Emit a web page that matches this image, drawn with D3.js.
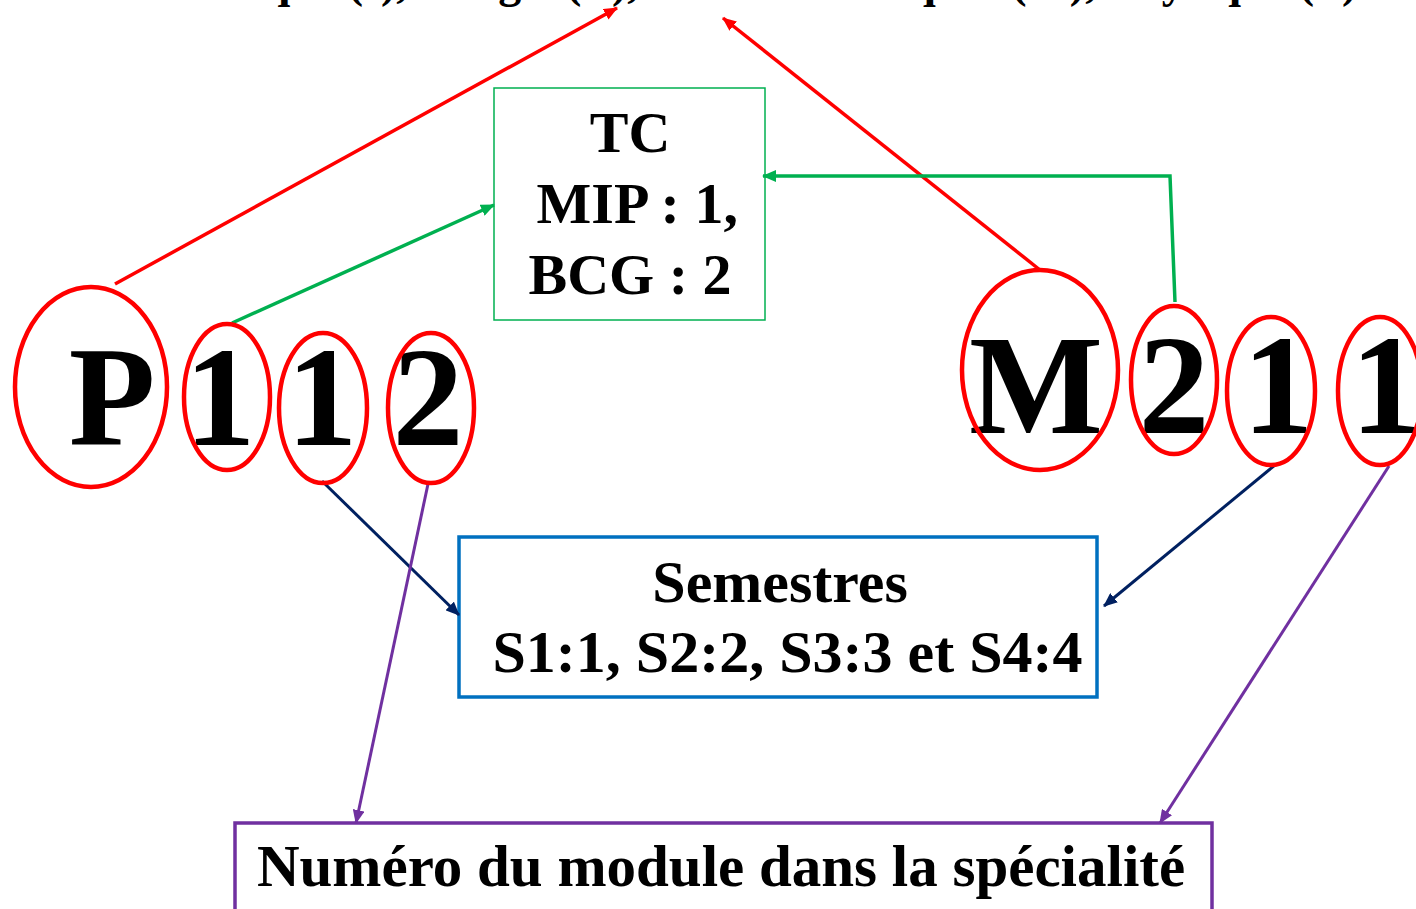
<!DOCTYPE html>
<html>
<head>
<meta charset="utf-8">
<script src="https://cdn.jsdelivr.net/npm/d3@7"></script>
<style>
  html, body { margin: 0; padding: 0; background: #fff; }
  svg { display: block; }
  text { font-family: "Liberation Serif", "Times New Roman", serif; font-weight: bold; fill: #000; }
</style>
</head>
<body>
<svg id="mychart"></svg>
<script>
const width = 1416
const height = 909

// the two course codes
const leftCode = ["P", "1", "1", "2"]
const rightCode = ["M", "2", "1", "1"]

// box labels
const tcLines = ["TC", " MIP : 1,", "BCG : 2"]
const semLines = ["Semestres", " S1:1, S2:2, S3:3 et S4:4"]
const numLines = ["Numéro du module dans la spécialité"]

// top line (only the bottom of it shows)
const topWords = ["Informatique (I),", "Biologie (B),", "Mathématiques (M), Physique (P)"]

// layout
const leftX = [112, 220, 322, 428]
const rightX = [1036, 1174, 1278, 1386]
const leftRings = [[91, 387, 76, 100], [227, 397, 43, 73], [323, 408, 44, 75], [431, 408, 43, 75]]
const rightRings = [[1040, 370, 78, 100], [1174, 380, 43, 74], [1271, 391, 44, 74], [1380, 391, 42, 74]]
const topX = [73, 396, 693]

const boxes = [
  {x: 494, y: 88, w: 271, h: 232, color: "#00B050", sw: 1.5, lines: tcLines, size: 58, x0: 630, y0: 152, dy: 71},
  {x: 459, y: 537, w: 638, h: 160, color: "#0070C0", sw: 3.5, lines: semLines, size: 60, x0: 780, y0: 602, dy: 70},
  {x: 235, y: 823, w: 977, h: 100, color: "#7030A0", sw: 3.5, lines: numLines, size: 59, x0: 721, y0: 886, dy: 0}
]

const links = [
  {color: "#FF0000", sw: 3.5, pts: [[115, 284], [617, 8]]},
  {color: "#FF0000", sw: 3.5, pts: [[1040, 270], [723, 18]]},
  {color: "#00B050", sw: 3.5, pts: [[232, 323], [494, 205]]},
  {color: "#00B050", sw: 3.5, pts: [[1175, 302], [1170, 176], [763, 176]]},
  {color: "#002060", sw: 3, pts: [[322, 481], [459, 615]]},
  {color: "#002060", sw: 3, pts: [[1275, 465], [1104, 606]]},
  {color: "#7030A0", sw: 3, pts: [[428, 484], [356, 823]]},
  {color: "#7030A0", sw: 3, pts: [[1389, 466], [1160, 823]]}
]

function chart () {
  const svg = d3.select('#mychart')
    .attr('width', width).attr('height', height)
    .attr('viewBox', [0, 0, width, height])

  const colors = Array.from(new Set(links.map(d => d.color)))
  svg.append("defs").selectAll("marker")
    .data(colors)
    .join("marker")
      .attr("id", d => "arr" + d.slice(1))
      .attr("markerUnits", "userSpaceOnUse")
      .attr("viewBox", "0 0 14 12")
      .attr("markerWidth", 14).attr("markerHeight", 12)
      .attr("refX", 13).attr("refY", 6)
      .attr("orient", "auto")
    .append("path")
      .attr("d", "M0,0L14,6L0,12Z")
      .attr("fill", d => d)

  // top line, cut off by the frame
  svg.append("g").selectAll("text")
    .data(topWords)
    .join("text")
      .attr("x", (d, i) => topX[i])
      .attr("y", -3)
      .attr("font-size", 46)
      .text(d => d)

  // boxes
  const box = svg.append("g").selectAll("g").data(boxes).join("g")
  box.append("rect")
    .attr("x", d => d.x).attr("y", d => d.y)
    .attr("width", d => d.w).attr("height", d => d.h)
    .attr("fill", "none")
    .attr("stroke", d => d.color)
    .attr("stroke-width", d => d.sw)
  box.each(function (d) {
    d3.select(this).selectAll("text")
      .data(d.lines)
      .join("text")
        .attr("x", d.x0)
        .attr("y", (t, i) => d.y0 + i * d.dy)
        .attr("text-anchor", "middle")
        .attr("font-size", d.size)
        .style("white-space", "pre")
        .text(t => t)
  })

  // arrows
  const line = d3.line()
  svg.append("g").selectAll("path")
    .data(links)
    .join("path")
      .attr("d", d => line(d.pts))
      .attr("fill", "none")
      .attr("stroke", d => d.color)
      .attr("stroke-width", d => d.sw)
      .attr("marker-end", d => `url(#arr${d.color.slice(1)})`)

  // code letters
  const codes = svg.append("g").attr("font-size", 142).attr("text-anchor", "middle")
  codes.selectAll("text.l")
    .data(leftCode)
    .join("text").attr("class", "l")
      .attr("x", (d, i) => leftX[i]).attr("y", 445)
      .text(d => d)
  codes.selectAll("text.r")
    .data(rightCode)
    .join("text").attr("class", "r")
      .attr("x", (d, i) => rightX[i]).attr("y", 433)
      .text(d => d)

  // red rings
  svg.append("g")
    .attr("fill", "none").attr("stroke", "#FF0000").attr("stroke-width", 4.5)
    .selectAll("ellipse")
    .data(leftRings.concat(rightRings))
    .join("ellipse")
      .attr("cx", d => d[0]).attr("cy", d => d[1])
      .attr("rx", d => d[2]).attr("ry", d => d[3])

  return svg.node()
}

chart()
</script>
</body>
</html>
